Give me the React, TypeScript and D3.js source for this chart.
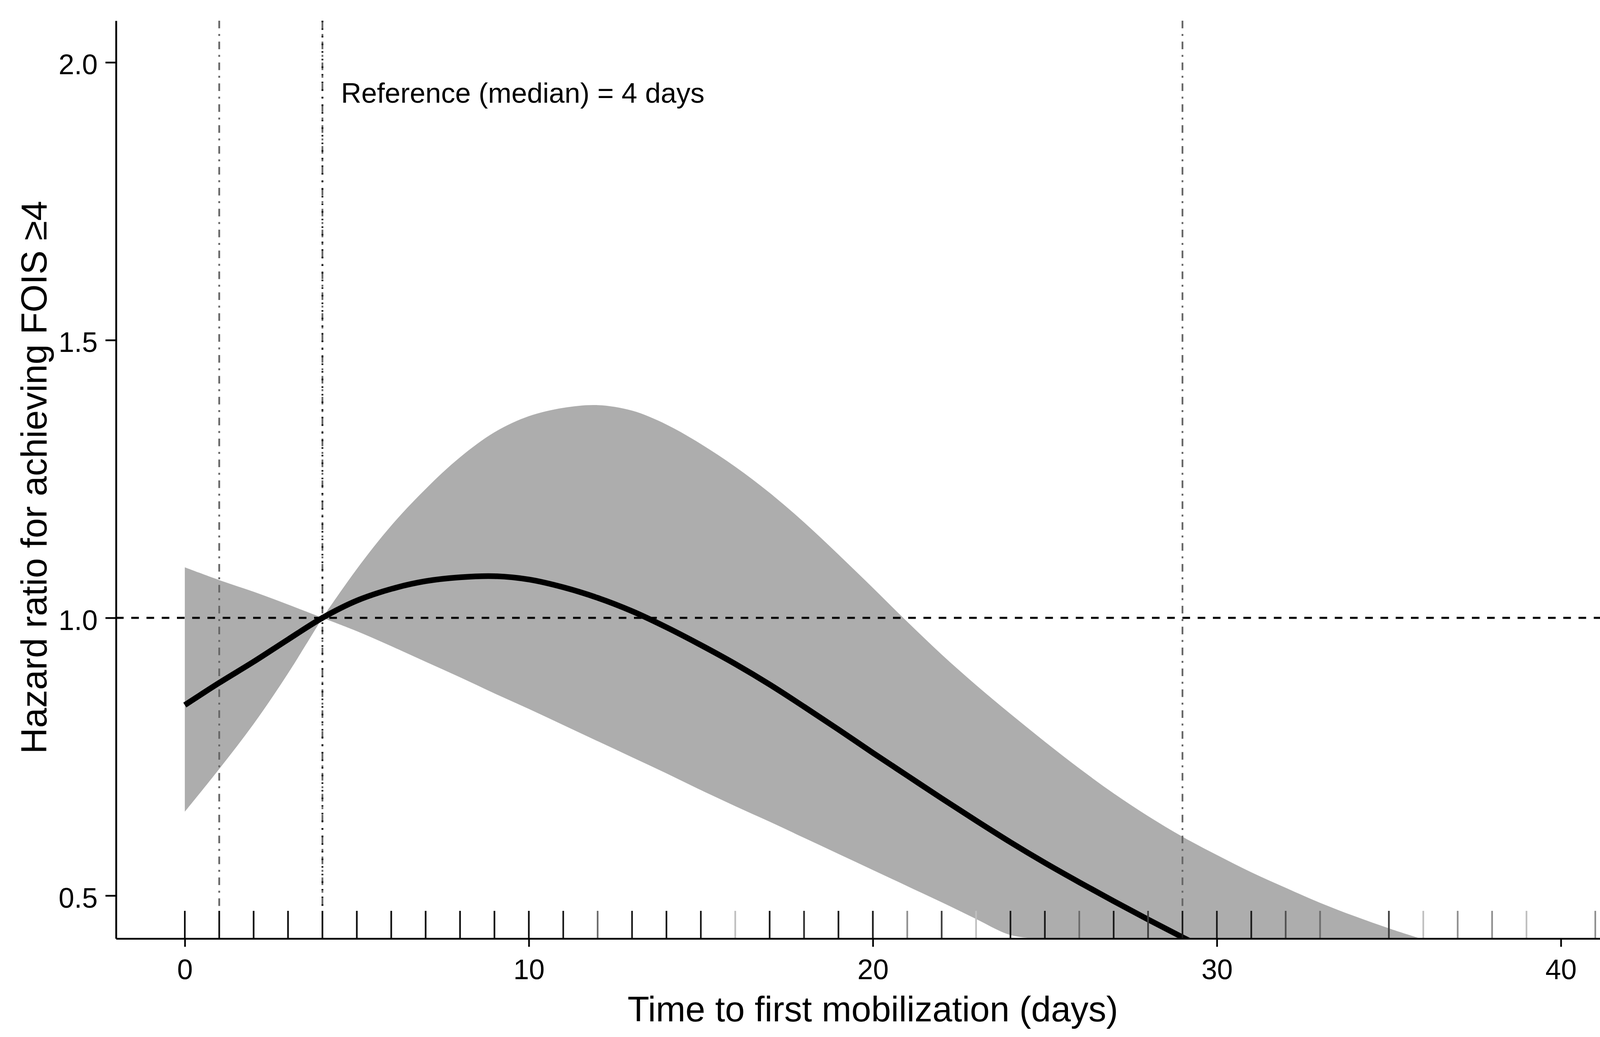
import { useEffect, useRef } from 'react';
import * as d3 from 'd3';

const WIDTH = 4204;
const HEIGHT = 2655;

const days = [
  0, 1, 2, 3, 4, 5, 6, 7, 8, 9, 10, 11, 12, 13, 14, 15, 16, 17, 18, 19, 20,
  21, 22, 23, 24, 25, 26, 27, 28, 29, 30, 31, 32, 33, 34, 35, 36,
];

// Hazard ratio (days 0..30)
const hazardRatio = [
  0.843, 0.883, 0.921, 0.961, 1.0, 1.031, 1.052, 1.066, 1.073, 1.075, 1.069,
  1.055, 1.036, 1.012, 0.983, 0.951, 0.917, 0.88, 0.84, 0.799, 0.757, 0.716,
  0.675, 0.635, 0.596, 0.559, 0.524, 0.49, 0.457, 0.425, 0.394,
];

// Upper 95% CI (days 0..36)
const upperCI = [
  1.091, 1.068, 1.047, 1.024, 1.0, 1.088, 1.166, 1.232, 1.289, 1.334, 1.363,
  1.378, 1.383, 1.373, 1.348, 1.313, 1.272, 1.225, 1.172, 1.114, 1.054, 0.993,
  0.934, 0.879, 0.827, 0.777, 0.729, 0.684, 0.643, 0.606, 0.573, 0.542, 0.514,
  0.487, 0.463, 0.441, 0.421,
];

// Lower 95% CI (days 0..25, after that it leaves the plot)
const lowerCI = [
  0.651, 0.728, 0.809, 0.9, 1.0, 0.976, 0.949, 0.921, 0.893, 0.864, 0.836,
  0.807, 0.778, 0.749, 0.72, 0.69, 0.661, 0.633, 0.604, 0.575, 0.546, 0.517,
  0.488, 0.458, 0.429, 0.4,
];

const referenceDay = 4;
const percentileDays = [1, 4, 29];

// Rug: observed days and how many patients at each
const rugDays = [
  0, 1, 2, 3, 4, 5, 6, 7, 8, 9, 10, 11, 12, 13, 14, 15, 16, 17, 18, 19, 20,
  21, 22, 23, 24, 25, 26, 27, 28, 29, 30, 31, 32, 33, 35, 36, 37, 38, 39, 41,
  42,
];
const rugCounts = [
  10, 10, 10, 10, 10, 10, 10, 10, 10, 10, 10, 8, 3, 8, 8, 8, 1, 8, 6, 8, 8, 2,
  5, 1, 8, 8, 3, 8, 5, 8, 8, 8, 4, 3, 5, 1, 2, 2, 1, 2, 2,
];

const xTicks = [0, 10, 20, 30, 40];
const yTicks = [0.5, 1.0, 1.5, 2.0];
const xDomain: [number, number] = [-2, 42];
const yDomain: [number, number] = [0.4226, 2.075];

const FONT = '"Liberation Sans", Arial, sans-serif';

export default function App() {
  const svgRef = useRef<SVGSVGElement>(null);

  useEffect(() => {
    if (!svgRef.current) return;
    const svg = d3.select(svgRef.current);
    svg.selectAll('*').remove();

    const left = 297;
    const right = 4172;
    const top = 53;
    const bottom = 2403;

    const x = d3.scaleLinear().domain(xDomain).range([left, right]);
    const y = d3.scaleLinear().domain(yDomain).range([bottom, top]);

    svg
      .append('rect')
      .attr('width', WIDTH)
      .attr('height', HEIGHT)
      .attr('fill', '#ffffff');

    svg
      .append('defs')
      .append('clipPath')
      .attr('id', 'plot-clip')
      .append('rect')
      .attr('x', left)
      .attr('y', top)
      .attr('width', right - left)
      .attr('height', bottom - top);

    const g = svg.append('g').attr('clip-path', 'url(#plot-clip)');

    // Confidence band, split at the reference so the pinch stays sharp
    const band = days.map((d, i) => ({
      day: d,
      hi: upperCI[i],
      lo: i < lowerCI.length ? lowerCI[i] : yDomain[0],
    }));
    const area = d3
      .area<{ day: number; hi: number; lo: number }>()
      .x((d) => x(d.day))
      .y0((d) => y(Math.max(d.lo, yDomain[0])))
      .y1((d) => y(d.hi))
      .curve(d3.curveCatmullRom.alpha(0.5));

    [
      band.filter((d) => d.day <= referenceDay),
      band.filter((d) => d.day >= referenceDay),
    ].forEach((seg) => {
      g.append('path').attr('d', area(seg)).attr('fill', '#adadad');
    });

    // HR = 1 reference line
    g.append('line')
      .attr('x1', left)
      .attr('x2', right)
      .attr('y1', y(1))
      .attr('y2', y(1))
      .attr('stroke', '#000')
      .attr('stroke-width', 5.3)
      .attr('stroke-dasharray', '19.5 19.5');

    // Percentile lines
    g.selectAll('line.pct')
      .data(percentileDays)
      .join('line')
      .attr('class', 'pct')
      .attr('x1', (d) => x(d))
      .attr('x2', (d) => x(d))
      .attr('y1', top)
      .attr('y2', 2328)
      .attr('stroke', '#666666')
      .attr('stroke-width', 4.5)
      .attr('stroke-dasharray', '19.5 14.5 5 14.5');

    // Reference (median) line
    g.append('line')
      .attr('x1', x(referenceDay))
      .attr('x2', x(referenceDay))
      .attr('y1', top)
      .attr('y2', 2328)
      .attr('stroke', '#000')
      .attr('stroke-width', 4.5)
      .attr('stroke-dasharray', '4 15.5');

    // Hazard ratio curve
    const line = d3
      .line<number>()
      .x((_, i) => x(days[i]))
      .y((d) => y(d))
      .curve(d3.curveCatmullRom.alpha(0.5));

    g.append('path')
      .attr('d', line(hazardRatio))
      .attr('fill', 'none')
      .attr('stroke', '#000')
      .attr('stroke-width', 14.5)
      .attr('stroke-linejoin', 'round');

    // Rug of observed values
    svg
      .append('g')
      .selectAll('line')
      .data(rugDays)
      .join('line')
      .attr('x1', (d) => x(d))
      .attr('x2', (d) => x(d))
      .attr('y1', 2332)
      .attr('y2', bottom)
      .attr('stroke-width', 4.3)
      .attr('stroke', (_, i) => {
        const v = Math.round(255 * Math.pow(0.75, rugCounts[i]));
        return d3.rgb(v, v, v).formatHex();
      });

    // Axes
    const xAxis = svg
      .append('g')
      .attr('transform', `translate(0,${bottom})`)
      .call(
        d3
          .axisBottom(x)
          .tickValues(xTicks)
          .tickFormat(d3.format('d'))
          .tickSize(21)
          .tickSizeOuter(0)
          .tickPadding(32)
      );
    xAxis.select('.domain').attr('stroke', '#000').attr('stroke-width', 4.7);
    xAxis.selectAll('.tick line').attr('stroke', '#000').attr('stroke-width', 4.3);
    xAxis
      .selectAll('.tick text')
      .attr('fill', '#000')
      .attr('font-size', 72)
      .attr('font-family', FONT);

    const yAxis = svg
      .append('g')
      .attr('transform', `translate(${left},0)`)
      .call(
        d3
          .axisLeft(y)
          .tickValues(yTicks)
          .tickFormat(d3.format('.1f'))
          .tickSize(27)
          .tickSizeOuter(0)
          .tickPadding(20)
      );
    yAxis.select('.domain').attr('stroke', '#000').attr('stroke-width', 4.7);
    yAxis.selectAll('.tick line').attr('stroke', '#000').attr('stroke-width', 4.5);
    yAxis
      .selectAll('.tick text')
      .attr('fill', '#000')
      .attr('font-size', 72)
      .attr('font-family', FONT)
      .attr('dy', '0.42em');

    // Annotation
    svg
      .append('text')
      .attr('x', 873)
      .attr('y', 263)
      .attr('font-size', 72)
      .attr('font-family', FONT)
      .attr('fill', '#000')
      .text(`Reference (median) = ${referenceDay} days`);

    // Axis titles
    svg
      .append('text')
      .attr('x', (left + right) / 2)
      .attr('y', 2615)
      .attr('text-anchor', 'middle')
      .attr('font-size', 91)
      .attr('font-family', FONT)
      .attr('fill', '#000')
      .text('Time to first mobilization (days)');

    svg
      .append('text')
      .attr('transform', `translate(119,1222) rotate(-90)`)
      .attr('text-anchor', 'middle')
      .attr('font-size', 92)
      .attr('font-family', FONT)
      .attr('fill', '#000')
      .text('Hazard ratio for achieving FOIS \u22654');
  }, []);

  return (
    <svg
      ref={svgRef}
      width={WIDTH}
      height={HEIGHT}
      style={{ position: 'absolute', left: 0, top: 0, display: 'block' }}
    />
  );
}
